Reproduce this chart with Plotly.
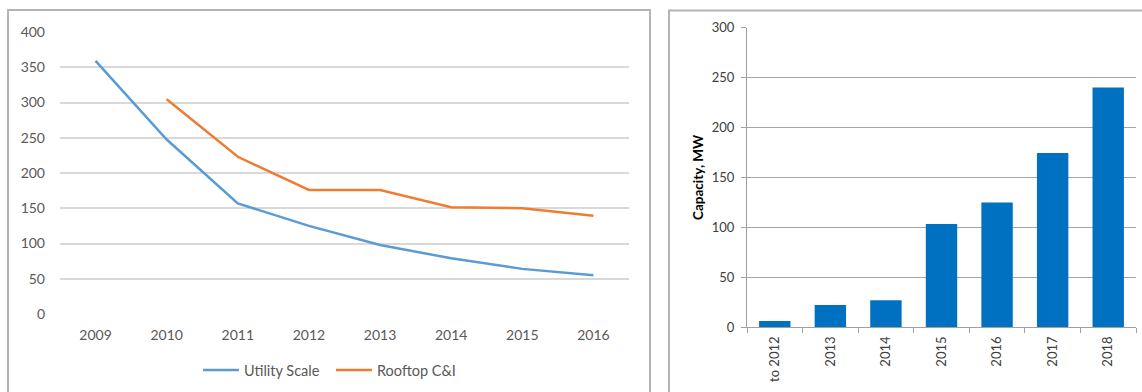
import plotly.graph_objects as go

# Cost trend (left panel)
years = ["2009", "2010", "2011", "2012", "2013", "2014", "2015", "2016"]
utility_scale = [359, 247.5, 157, 125, 98, 79, 64, 55]
rooftop_ci = [None, 304.5, 223, 176, 176, 151.5, 150, 139.5]

# Installed capacity (right panel)
cap_labels = ["to 2012", "2013", "2014", "2015", "2016", "2017", "2018"]
capacity_mw = [6.3, 22.4, 27, 103.4, 125, 174.5, 240]

W, H = 1142, 392


def px_x(v):
    return v / W


def px_y(v):
    return 1 - v / H


fig = go.Figure()

fig.add_trace(go.Scatter(
    x=years, y=utility_scale, mode="lines", name="Utility Scale",
    line=dict(color="#5b9bd5", width=2.5), xaxis="x", yaxis="y",
))
fig.add_trace(go.Scatter(
    x=years, y=rooftop_ci, mode="lines", name="Rooftop C&I",
    line=dict(color="#ed7d31", width=2.5), xaxis="x", yaxis="y",
    connectgaps=False,
))
fig.add_trace(go.Bar(
    x=cap_labels, y=capacity_mw, marker=dict(color="#0070c0", line=dict(width=0)),
    xaxis="x2", yaxis="y2", showlegend=False,
))

left_font = dict(family="Lato, Carlito, sans-serif", size=14, color="#595959")
legend_font = dict(family="Lato, Carlito, sans-serif", size=14.5, color="#595959")
right_font = dict(family="Lato, Carlito, sans-serif", size=13, color="#404040")

fig.update_layout(
    width=W, height=H,
    margin=dict(l=0, r=0, t=0, b=0, autoexpand=False),
    paper_bgcolor="white", plot_bgcolor="white",
    bargap=0.435,
    xaxis=dict(
        domain=[px_x(60), px_x(629)], anchor="y", automargin=False,
        type="category", range=[-0.5, 7.5],
        showgrid=False, showline=False, zeroline=False, ticks="",
        tickfont=left_font, ticklabelstandoff=11,
    ),
    yaxis=dict(
        domain=[px_y(314), px_y(32)], anchor="x", automargin=False,
        range=[0, 400], dtick=50,
        showgrid=True, gridcolor="#d9d9d9", gridwidth=1.5,
        showline=False, zeroline=False, ticks="",
        tickfont=left_font, ticklabelstandoff=14,
    ),
    xaxis2=dict(
        domain=[px_x(747), px_x(1136)], anchor="y2", automargin=False,
        type="category", range=[-0.5, 6.5],
        showgrid=False, showline=True, linecolor="#a0a0a0", linewidth=1,
        ticks="outside", ticklen=5, tickcolor="#a0a0a0", tickson="boundaries",
        tickangle=-90, tickfont=right_font, zeroline=False, ticklabelstandoff=3,
    ),
    yaxis2=dict(
        domain=[px_y(327.3), px_y(27.7)], anchor="x2", automargin=False,
        range=[0, 300], dtick=50,
        showgrid=True, gridcolor="#a6a6a6", gridwidth=1,
        showline=True, linecolor="#a0a0a0", linewidth=1,
        ticks="outside", ticklen=5, tickcolor="#a0a0a0",
        tickfont=right_font, zeroline=False, ticklabelstandoff=4,
    ),
    legend=dict(
        orientation="h", x=px_x(198), xanchor="left",
        y=px_y(370), yanchor="middle",
        font=legend_font, bgcolor="rgba(0,0,0,0)",
        itemwidth=36, tracegroupgap=0, entrywidth=82,
    ),
    showlegend=True,
    shapes=[
        dict(type="rect", xref="paper", yref="paper",
             x0=px_x(8), x1=px_x(650), y0=-0.05, y1=px_y(10),
             line=dict(color="#b4b4b4", width=2), layer="below"),
        dict(type="rect", xref="paper", yref="paper",
             x0=px_x(669), x1=1.05, y0=-0.05, y1=px_y(10.5),
             line=dict(color="#b4b4b4", width=2), layer="below"),
    ],
    annotations=[
        dict(text="<b>Capacity, MW</b>", xref="paper", yref="paper",
             x=px_x(698), y=px_y(177), textangle=-90, showarrow=False,
             font=dict(family="Lato, Carlito, sans-serif", size=13.5, color="#000000"),
             xanchor="center", yanchor="middle"),
    ],
)

fig.write_html("out.html")
